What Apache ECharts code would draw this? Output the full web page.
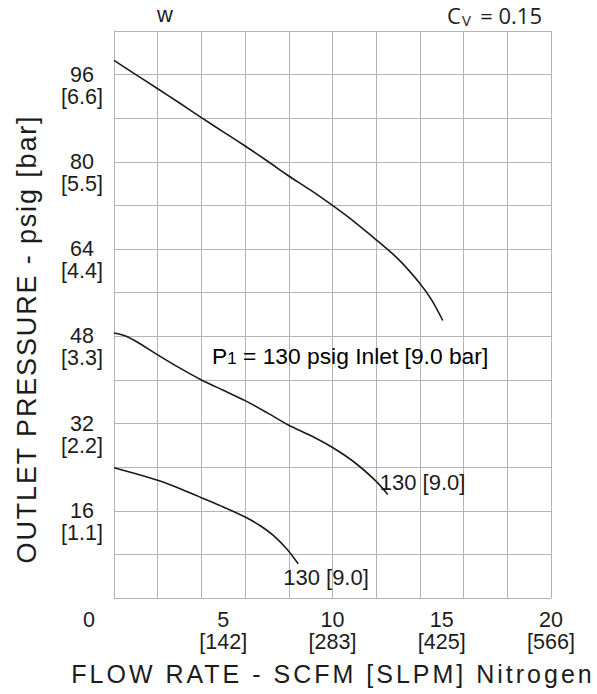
<!DOCTYPE html>
<html>
<head>
<meta charset="utf-8">
<script src="https://cdn.jsdelivr.net/npm/echarts@6/dist/echarts.min.js"></script>
<style>
html,body{margin:0;padding:0;background:#ffffff;}
#c{width:597px;height:694px;}
</style>
</head>
<body>
<div id="c"></div>
<script>
// ---- data ----
const topFlow = [0, 1, 2, 3, 4, 5, 6, 7, 8, 9, 10, 11, 12, 13, 14, 14.55, 15.05];
const topPressure = [98.6, 96.0, 93.4, 90.8, 88.1, 85.5, 82.9, 80.2, 77.4, 74.8, 72.0, 69.0, 65.7, 62.2, 57.7, 54.6, 50.9];

const midFlow = [0, 0.5, 1, 2, 3, 4, 5, 6, 7, 8, 9, 10, 11, 12, 12.53];
const midPressure = [48.6, 48.1, 47.1, 44.6, 42.2, 40.0, 38.1, 36.2, 34.0, 31.7, 29.8, 27.6, 24.9, 21.4, 19.0];

const lowFlow = [0, 1, 2, 3, 4, 5, 6, 6.68, 7.29, 7.9, 8.43];
const lowPressure = [23.9, 22.8, 21.6, 20.1, 18.4, 16.7, 14.85, 13.3, 11.5, 9.05, 6.3];

const xTickScfm = [0, 5, 10, 15, 20];
const xTickSlpm = ['', '142', '283', '425', '566'];
const yTickPsig = [16, 32, 48, 64, 80, 96];
const yTickBar = ['1.1', '2.2', '3.3', '4.4', '5.5', '6.6'];

const curveLabels = ['130 [9.0]', '130 [9.0]'];
const xTitle = 'FLOW RATE - SCFM [SLPM] Nitrogen';
const yTitle = 'OUTLET PRESSURE - psig [bar]';
const inletNote = ['P', '1', ' = 130 psig Inlet [9.0 bar]'];
const cornerLeft = 'w';
const cvParts = ['C', 'V', '= 0.15'];

// ---- chart ----
const FONT = "'Liberation Sans', Arial, sans-serif";
const TXT = '#1c1c1c';
const GRIDC = '#b4b4b4';
const zip = (a, b) => a.map((v, i) => [v, b[i]]);

const chart = echarts.init(document.getElementById('c'), null, {renderer: 'svg'});

const lineStyle = {color: '#1a1a1a', width: 1.6};

chart.setOption({
  animation: false,
  backgroundColor: '#ffffff',
  grid: {left: 114, top: 31, width: 437, height: 567, containLabel: false},
  xAxis: [
    {
      type: 'value', min: 0, max: 20, interval: 2, position: 'bottom',
      axisLine: {show: true, lineStyle: {color: GRIDC, width: 1}},
      axisTick: {show: false},
      axisLabel: {show: false},
      splitLine: {show: true, lineStyle: {color: GRIDC, width: 1}}
    },
    {
      type: 'value', min: 0, max: 20, interval: 5, position: 'bottom',
      axisLine: {show: false}, axisTick: {show: false},
      splitLine: {show: false},
      axisLabel: {
        show: true, margin: 11, color: TXT, fontFamily: FONT, fontSize: 21.5, lineHeight: 22,
        align: 'center', verticalAlign: 'top',
        formatter: function (v) {
          const i = xTickScfm.indexOf(v);
          if (i < 0) return '';
          if (v === 0) return '{z|0}';
          return v + '\n[' + xTickSlpm[i] + ']';
        },
        rich: {
          z: {padding: [0, 50, 0, 0], fontSize: 21.5, lineHeight: 22, fontFamily: FONT, color: TXT}
        }
      }
    }
  ],
  yAxis: {
    type: 'value', min: 0, max: 104, interval: 8,
    axisLine: {show: true, lineStyle: {color: GRIDC, width: 1}},
    axisTick: {show: false},
    splitLine: {show: true, lineStyle: {color: GRIDC, width: 1}},
    axisLabel: {
      show: true, margin: 32, color: TXT, fontFamily: FONT, fontSize: 21.5, lineHeight: 22,
      align: 'center', verticalAlign: 'middle',
      formatter: function (v) {
        const i = yTickPsig.indexOf(v);
        if (i < 0) return '';
        // leading blank line keeps the psig value centred on its grid line
        return '\n' + v + '\n[' + yTickBar[i] + ']';
      }
    }
  },
  series: [
    {type: 'line', name: 'top', xAxisIndex: 0, data: zip(topFlow, topPressure), smooth: 0.25, symbol: 'none', lineStyle: lineStyle, silent: true},
    {type: 'line', name: 'mid', xAxisIndex: 0, data: zip(midFlow, midPressure), smooth: 0.25, symbol: 'none', lineStyle: lineStyle, silent: true},
    {type: 'line', name: 'low', xAxisIndex: 0, data: zip(lowFlow, lowPressure), smooth: 0.25, symbol: 'none', lineStyle: lineStyle, silent: true}
  ]
});

// end-of-curve labels placed relative to the last data point of each curve
const midEnd = chart.convertToPixel({xAxisIndex: 0, yAxisIndex: 0}, [midFlow[midFlow.length - 1], midPressure[midPressure.length - 1]]);
const lowEnd = chart.convertToPixel({xAxisIndex: 0, yAxisIndex: 0}, [lowFlow[lowFlow.length - 1], lowPressure[lowPressure.length - 1]]);

const tStyle = (extra) => Object.assign({fill: TXT, fontFamily: FONT, fontSize: 22}, extra);

chart.setOption({
  graphic: [
    {type: 'text', silent: true, x: midEnd[0] - 8, y: midEnd[1] - 12,
      style: tStyle({text: curveLabels[0], align: 'left', verticalAlign: 'middle'})},
    {type: 'text', silent: true, x: lowEnd[0] - 15, y: lowEnd[1] + 13.5,
      style: tStyle({text: curveLabels[1], align: 'left', verticalAlign: 'middle'})},
    {type: 'text', silent: true, x: 212, y: 355,
      style: {
        text: '{a|' + inletNote[0] + '}{s|' + inletNote[1] + '}{a|' + inletNote[2] + '}',
        align: 'left', verticalAlign: 'middle',
        rich: {
          a: {fontFamily: FONT, fontSize: 22.8, lineHeight: 24, color: TXT, verticalAlign: 'bottom'},
          s: {fontFamily: FONT, fontSize: 17, lineHeight: 19, color: TXT, verticalAlign: 'bottom'}
        }
      }},
    {type: 'text', silent: true, x: 157, y: 14,
      style: tStyle({text: cornerLeft, align: 'left', verticalAlign: 'middle'})},
    {type: 'text', silent: true, x: 447, y: 14.5,
      style: {text: cvParts[0], fill: TXT, fontFamily: "'Open Sans', sans-serif", fontSize: 22, align: 'left', verticalAlign: 'middle'}},
    {type: 'text', silent: true, x: 462, y: 19.5,
      style: {text: cvParts[1], fill: TXT, fontFamily: "'Open Sans', sans-serif", fontSize: 15, align: 'left', verticalAlign: 'middle'}},
    {type: 'text', silent: true, x: 542, y: 14.5,
      style: {text: cvParts[2], fill: TXT, fontFamily: "'Open Sans', sans-serif", fontSize: 22, align: 'right', verticalAlign: 'middle'}},
    {type: 'text', silent: true, x: 333, y: 674,
      style: {text: xTitle, fill: TXT, fontFamily: FONT, fontSize: 25, align: 'center', verticalAlign: 'middle'}},
    {type: 'text', silent: true, x: 27, y: 339, rotation: Math.PI / 2,
      style: {text: yTitle, fill: TXT, fontFamily: FONT, fontSize: 27, align: 'center', verticalAlign: 'middle'}}
  ]
});

function applySpacing() {
  const texts = document.querySelectorAll('#c svg text');
  texts.forEach(function (t) {
    const s = t.textContent;
    if (s === xTitle) t.style.letterSpacing = '3px';
    else if (s === yTitle) t.style.letterSpacing = '1.85px';
  });
}
applySpacing();
chart.on('finished', applySpacing);
setTimeout(applySpacing, 0);
setTimeout(applySpacing, 100);
</script>
</body>
</html>
